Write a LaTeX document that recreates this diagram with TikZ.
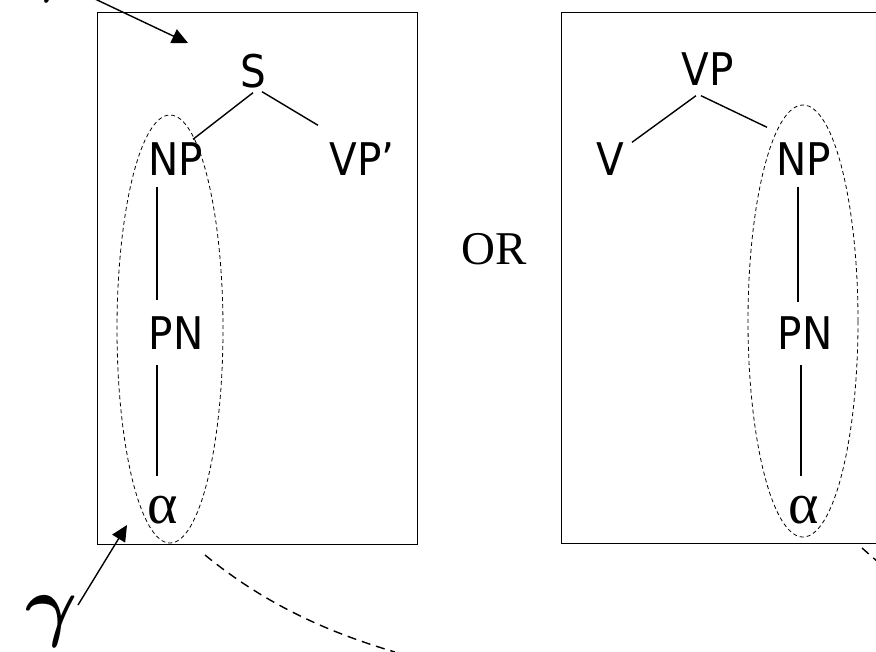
\documentclass[tikz,border=0pt]{standalone}
\usepackage{graphicx}
\usepackage{fontspec}
\newfontfamily\tf[FakeStretch=0.9]{DejaVu Sans}
\newfontfamily\tnr{Liberation Serif}
\usetikzlibrary{calc,arrows.meta,shapes.geometric}
\begin{document}
\begin{tikzpicture}[x=1pt,y=-1pt,
  lab/.style={font=\tf\fontsize{45}{45}\selectfont, inner sep=0pt, text height=33pt, text depth=0pt},
  alab/.style={font=\tnr\fontsize{58}{58}\selectfont, inner sep=0pt, text height=26pt, text depth=0pt},
  edge/.style={line width=1.4pt},
  frame/.style={draw, line width=1.4pt},
  grp/.style={ellipse, draw, dash pattern=on 4pt off 3pt, line width=0.8pt, inner sep=0pt},
  arr/.style={line width=1.4pt, -{Triangle[length=16pt,width=15pt]}},
  far/.style={line width=1.4pt, dash pattern=on 9pt off 6pt},
  gam/.style={inner sep=0pt}]
\useasboundingbox (0,0) rectangle (876,651);
\clip (0,0) rectangle (876,651);
\fill[white] (0,0) rectangle (876,651);

% boxes
\node[frame, minimum width=320pt, minimum height=532pt, anchor=north west, inner sep=0pt] (box1) at (97,12) {};
\node[frame, minimum width=340pt, minimum height=531pt, anchor=north west, inner sep=0pt] (box2) at (561,12) {};

% left tree
\node[lab] (s) at (253,71) {S};
\node[lab] (np1) at (176,159) {NP};
\node[lab] (vpp) at (362,159) {VP’};
\node[lab] (pn1) at (176,333) {PN};
\node[alab] (al1) at (163,510) {α};
\draw[edge] ($(s.south)+(0,5)$) -- ($(np1.north)+(17,-3)$);
\draw[edge] ($(s.south)+(9,4)$) -- ($(vpp.north)+(-44,-17)$);
\draw[edge] ($(np1.south)+(-19,11)$) -- ($(pn1.north)+(-19,-16)$);
\draw[edge] ($(pn1.south)+(-19,15)$) -- ($(al1.north)+(-6,-21)$);
\node[grp, minimum width=106pt, minimum height=428pt] (e1) at (170,329) {};

% OR
\node[font=\tnr\fontsize{47}{47}\selectfont, inner sep=0pt] (or) at (494,249) {OR};

% right tree
\node[lab] (vp) at (708,69) {VP};
\node[lab] (v) at (610,159) {V};
\node[lab] (np2) at (804,159) {NP};
\node[lab] (pn2) at (805,333) {PN};
\node[alab] (al2) at (804,510) {α};
\draw[edge] ($(vp.south)+(-12,10)$) -- ($(v.north)+(22,0)$);
\draw[edge] ($(vp.south)+(-7,10)$) -- ($(np2.north)+(-37,-15)$);
\draw[edge] ($(np2.south)+(-6,11)$) -- ($(pn2.north)+(-7,-14)$);
\draw[edge] ($(pn2.south)+(-4,15)$) -- ($(al2.north)+(-3,-21)$);
\node[grp, minimum width=110pt, minimum height=432pt] (e2) at (803,321) {};

% gammas and arrows
\node[gam] (g1) at (44,-24) {\scalebox{8}{\boldmath$\gamma$}};
\node[gam] (g2) at (52,621) {\scalebox{8}{\boldmath$\gamma$}};
\coordinate (t1) at (188,43);
\coordinate (t2) at (127,525);
\draw[arr] ($(g1)+(32,14)$) -- (t1);
\draw[arr] ($(g2)+(26,-16)$) -- (t2);

% dashed continuation curves
\coordinate (c1a) at (205,555);
\coordinate (c1b) at (395,652);
\draw[far] (c1a) .. controls (260,600) and (320,630) .. (c1b);
\coordinate (c2a) at (862,548);
\coordinate (c2b) at (890,572);
\draw[far] (c2a) .. controls (870,555) and (880,564) .. (c2b);
\end{tikzpicture}
\end{document}
